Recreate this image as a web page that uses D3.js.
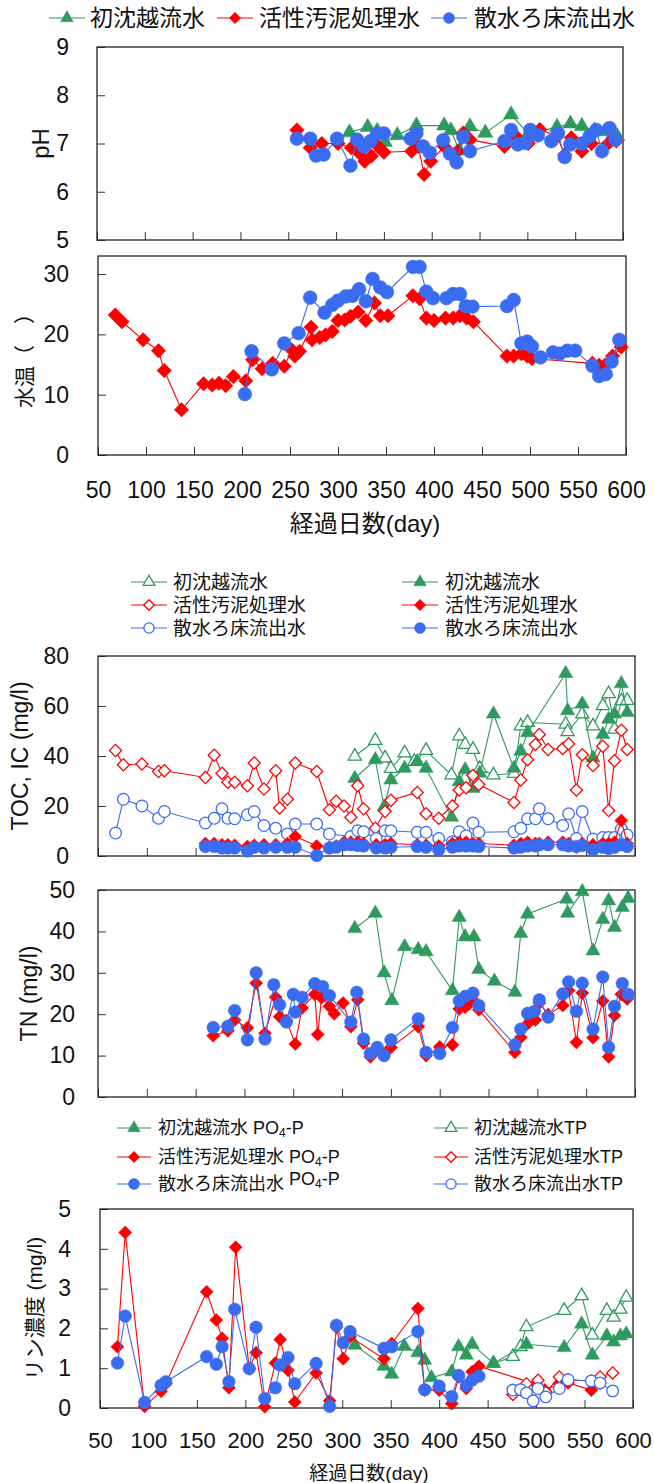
<!DOCTYPE html>
<html>
<head>
<meta charset="utf-8">
<script src="https://cdn.jsdelivr.net/npm/d3@7"></script>
<style>
  body { margin: 0; background: #fff; }
  text { font-family: "Liberation Sans", "Noto Sans CJK JP", sans-serif; fill: #111; }
</style>
</head>
<body>
<svg id="chart" width="654" height="1483"></svg>
<script>
// series names
var names = ["初沈越流水", "活性汚泥処理水", "散水ろ床流出水"];
var dayTicks = [50, 100, 150, 200, 250, 300, 350, 400, 450, 500, 550, 600];

// pH
var phTicks = [5, 6, 7, 8, 9];
var phGreenDays = [314, 333, 343, 351, 364, 384, 413, 420, 429, 440, 456, 483, 501, 531, 545, 557, 570, 581, 594];
var phGreen = [7.23, 7.34, 7.26, 7.03, 7.17, 7.37, 7.37, 7.27, 6.85, 7.35, 7.22, 7.6, 7.2, 7.34, 7.41, 7.36, 7.27, 7.25, 7.15];
var phRedDays = [259, 273, 285, 302, 316, 324, 330, 337, 344, 350, 379, 386, 392, 399, 413, 427, 433, 440, 476, 488, 501, 513, 531, 539, 546, 557, 567, 585, 593];
var phRed = [7.28, 6.91, 7.0, 7.0, 6.91, 6.81, 6.63, 6.74, 6.94, 6.82, 6.84, 6.94, 6.36, 6.63, 6.94, 6.84, 7.22, 7.08, 6.94, 7.15, 7.0, 7.29, 7.15, 6.77, 7.12, 6.84, 7.0, 7.01, 7.05];
var phBlueDays = [259, 273, 279, 287, 301, 315, 322, 329, 336, 343, 350, 378, 384, 391, 398, 412, 419, 426, 433, 440, 476, 483, 490, 498, 503, 511, 525, 532, 539, 545, 557, 565, 572, 578, 586, 592];
var phBlue = [7.1, 7.1, 6.75, 6.77, 7.1, 6.54, 7.08, 6.94, 7.05, 7.21, 7.21, 7.1, 7.21, 6.94, 6.81, 7.07, 6.79, 6.61, 7.14, 6.84, 7.05, 7.28, 6.98, 7.01, 7.28, 7.17, 7.05, 7.21, 6.72, 6.98, 7.0, 7.15, 7.28, 6.84, 7.32, 7.08];

// water temperature
var tempTicks = [0, 10, 20, 30];
var tempRedDays = [68, 75, 97, 113, 119, 137, 160, 169, 176, 183, 191, 204, 211, 221, 232, 244, 252, 255, 260, 272, 273, 281, 287, 294, 300, 307, 313, 321, 329, 338, 344, 352, 378, 385, 392, 400, 412, 420, 427, 434, 441, 476, 483, 491, 497, 502, 565, 572, 578, 586, 595];
var tempRed = [23.2, 22.1, 19.1, 17.3, 14.0, 7.5, 11.8, 11.6, 11.9, 11.5, 13.0, 12.3, 15.8, 14.3, 15.2, 14.7, 17.4, 16.4, 17.2, 21.2, 19.1, 19.5, 19.9, 20.5, 22.3, 22.4, 23.0, 23.7, 22.3, 25.2, 23.1, 23.1, 26.4, 25.9, 22.7, 22.3, 22.7, 22.7, 23.1, 22.7, 22.1, 16.4, 16.4, 16.8, 16.4, 16.0, 15.2, 14.9, 14.9, 16.4, 17.9];
var tempBlueDays = [203, 210, 231, 244, 259, 271, 286, 294, 300, 308, 315, 322, 329, 336, 344, 351, 378, 385, 392, 399, 413, 420, 427, 433, 440, 476, 483, 491, 497, 502, 511, 524, 531, 539, 547, 565, 572, 579, 585, 593];
var tempBlue = [10.1, 17.2, 14.2, 18.5, 20.2, 26.1, 23.6, 24.9, 25.6, 26.3, 26.4, 27.5, 25.5, 29.2, 27.8, 27.0, 31.2, 31.2, 27.1, 26.0, 26.0, 26.7, 26.7, 24.7, 24.6, 24.7, 25.7, 18.5, 18.8, 18.0, 16.2, 17.0, 16.8, 17.3, 17.3, 14.8, 13.1, 13.4, 15.5, 19.1];

// TOC (open) and IC (filled)
var tocTicks = [0, 20, 40, 60, 80];
var tocGreenDays = [313, 334, 344, 350, 364, 374, 386, 412, 420, 426, 434, 441, 455, 476, 483, 490, 529, 531, 546, 557, 567, 573, 579, 586, 592];
var tocGreen = [39.9, 46.2, 39.2, 35.0, 41.2, 37.8, 42.2, 32.4, 48.0, 44.6, 42.6, 35.0, 32.4, 33.0, 52.0, 53.4, 52.7, 49.7, 56.8, 52.0, 60.1, 64.9, 50.7, 62.0, 62.2];
var tocRedDays = [68, 76, 95, 112, 118, 160, 169, 177, 183, 190, 203, 210, 220, 232, 236, 244, 252, 274, 287, 294, 302, 309, 316, 322, 334, 344, 350, 377, 386, 399, 413, 420, 427, 434, 440, 476, 483, 490, 498, 502, 511, 526, 532, 540, 546, 557, 567, 573, 579, 586, 592];
var tocRed = [42.2, 36.5, 36.8, 33.8, 34.1, 31.4, 40.3, 33.1, 29.5, 29.5, 28.1, 37.2, 26.8, 34.1, 19.2, 22.7, 37.2, 33.8, 18.5, 21.9, 20.0, 15.5, 28.1, 18.9, 11.1, 17.8, 22.3, 25.4, 16.9, 15.1, 20.0, 26.4, 27.3, 32.2, 28.6, 21.4, 30.4, 38.5, 44.6, 48.6, 42.6, 43.0, 44.9, 26.4, 40.5, 36.2, 43.9, 18.2, 38.1, 50.3, 42.6];
var tocBlueDays = [68, 76, 95, 112, 118, 160, 169, 177, 183, 190, 203, 210, 220, 232, 244, 252, 274, 287, 309, 316, 322, 335, 344, 350, 377, 386, 399, 413, 420, 427, 434, 440, 476, 483, 490, 498, 502, 511, 526, 532, 540, 546, 557, 567, 573, 579, 586, 592];
var tocBlue = [9.2, 22.7, 20.0, 15.1, 17.8, 13.2, 15.1, 18.9, 15.1, 14.9, 16.5, 17.8, 12.2, 11.1, 8.8, 12.8, 12.8, 8.8, 7.8, 10.1, 9.7, 7.0, 10.1, 10.1, 9.5, 9.5, 7.0, 5.7, 9.7, 8.1, 13.2, 9.5, 9.7, 11.1, 14.9, 14.9, 18.9, 14.9, 12.2, 16.9, 7.0, 17.8, 6.8, 7.4, 7.4, 7.4, 10.8, 8.4];
var icGreenDays = [313, 334, 343, 350, 364, 377, 386, 412, 420, 426, 434, 441, 455, 476, 483, 490, 529, 531, 546, 557, 567, 573, 579, 586, 592];
var icGreen = [31, 38.5, 19.6, 30.4, 35.1, 37.8, 35.1, 15.5, 29.7, 34.5, 27, 33.1, 56.8, 35.1, 41.9, 49.3, 73, 58.1, 60.8, 39.2, 48.6, 54.7, 56.8, 68.9, 57.4];
var icDays = [160, 169, 177, 183, 190, 203, 210, 220, 232, 244, 252, 274, 287, 294, 302, 309, 316, 322, 335, 344, 350, 377, 386, 399, 413, 420, 427, 434, 440, 476, 483, 490, 498, 502, 511, 526, 532, 540, 546, 557, 567, 573, 579, 586, 592];
var icRed = [5, 5, 4.5, 4.5, 4.3, 3.8, 4.3, 4.5, 4.5, 5, 7.8, 4, 3.5, 4, 5.5, 5.5, 5.5, 5, 4.5, 4.5, 5, 4.5, 4.3, 4, 5, 5.5, 5.5, 5, 5, 4.3, 5, 5.5, 5, 5, 5.5, 5.5, 5, 3.5, 5, 4.5, 5, 5, 5.5, 14.2, 5];
var icBlue = [3.8, 3.8, 3.2, 3.2, 3.2, 2, 3.5, 3.2, 3.5, 3.5, 3.5, 0.2, 3.2, 3.5, 4.5, 4.5, 4.2, 4, 3.2, 3.2, 3.5, 3.8, 3.5, 2.5, 3.5, 4, 4, 4, 3.8, 3.2, 3.5, 4, 4, 4.5, 4.5, 4.5, 4, 3.8, 4.2, 2.5, 3.5, 3, 3.5, 4.5, 3.8];

// TN
var tnTicks = [0, 10, 20, 30, 40, 50];
var tnGreenDays = [313, 334, 343, 351, 364, 378, 386, 413, 420, 426, 435, 440, 456, 477, 483, 490, 530, 531, 546, 557, 567, 573, 579, 587, 593];
var tnGreen = [40.7, 44.4, 30.0, 23.3, 36.3, 35.6, 35.1, 25.7, 43.4, 38.7, 38.7, 30.8, 28.0, 25.3, 39.5, 44.2, 47.8, 44.4, 49.6, 35.3, 42.9, 47.4, 41.0, 45.8, 48.0];
var tnRedDays = [168, 183, 190, 203, 212, 221, 232, 236, 243, 252, 259, 272, 275, 279, 287, 292, 301, 309, 316, 322, 329, 335, 343, 350, 378, 386, 400, 413, 420, 426, 430, 435, 440, 477, 483, 490, 498, 502, 511, 526, 532, 540, 546, 557, 567, 573, 579, 586, 592];
var tnRed = [14.8, 16, 18.6, 16.7, 27.5, 15.4, 24.1, 19.4, 18.5, 12.8, 21.5, 24.8, 15.1, 24, 21.9, 20.1, 22.7, 17, 23.5, 13, 9.7, 11.3, 10.4, 12, 17, 10, 12.1, 12.6, 21.3, 21.7, 22.5, 23.2, 21.1, 10.8, 14.4, 17.7, 18.6, 22.7, 19.9, 22.1, 25.7, 13.2, 25.1, 14.3, 23.2, 9.7, 19.7, 24.8, 23.7];
var tnBlueDays = [168, 183, 190, 203, 212, 221, 230, 236, 243, 250, 252, 259, 272, 280, 287, 309, 315, 322, 329, 336, 343, 350, 378, 386, 400, 413, 420, 426, 434, 440, 477, 483, 490, 497, 502, 511, 526, 532, 540, 546, 557, 567, 573, 579, 587, 593];
var tnBlue = [16.8, 17.1, 20.9, 13.8, 30, 14, 27.1, 22.3, 18.1, 24.8, 20.5, 24.1, 27.4, 26.7, 24.5, 18.1, 25.3, 14, 10.5, 12, 10, 13.8, 18.9, 10.8, 10.5, 16.8, 23.2, 24.3, 25.1, 22.1, 12.6, 16.4, 20.2, 20.7, 23.5, 19.3, 24.9, 27.8, 20.7, 27.5, 16.4, 29, 12, 21.9, 27.4, 24.8];

// phosphorus: PO4-P (filled) and TP (open)
var pTicks = [0, 1, 2, 3, 4, 5];
var po4GreenDays = [313, 343, 351, 364, 378, 385, 392, 413, 420, 428, 434, 456, 490, 529, 547, 558, 573, 580, 587, 593];
var po4Green = [1.58, 1.05, 0.85, 1.55, 1.39, 1.2, 0.76, 0.91, 1.54, 1.33, 1.6, 1.12, 1.6, 1.52, 2.11, 1.33, 1.81, 1.66, 1.81, 1.86];
var po4RedDays = [68, 76, 96, 113, 118, 160, 170, 176, 183, 190, 204, 211, 220, 231, 236, 244, 251, 273, 287, 294, 301, 308, 343, 351, 378, 385, 400, 413, 420, 428, 434, 441, 500, 509, 524, 533, 557, 566];
var po4Red = [1.54, 4.41, 0.04, 0.42, 0.61, 2.92, 2.21, 1.75, 0.51, 4.04, 0.99, 1.39, 0.03, 1.13, 1.72, 0.95, 0.15, 0.88, 0.18, 2.03, 1.24, 1.79, 1.24, 1.62, 2.5, 0.45, 0.45, 0.11, 0.78, 0.49, 0.91, 1.05, 0.6, 0.45, 0.61, 0.63, 0.45, 0.63];
var po4BlueDays = [68, 76, 96, 113, 118, 160, 170, 176, 183, 189, 204, 211, 220, 231, 236, 244, 251, 273, 287, 294, 301, 308, 343, 351, 378, 385, 400, 413, 420, 428, 434, 441];
var po4Blue = [1.13, 2.31, 0.14, 0.57, 0.66, 1.29, 1.1, 1.54, 0.66, 2.48, 0.99, 2.03, 0.24, 0.51, 1.08, 1.27, 0.61, 1.12, 0.04, 2.08, 1.64, 1.92, 1.5, 1.54, 1.92, 0.46, 0.55, 0.29, 0.82, 0.57, 0.7, 0.8];
var tpGreenDays = [456, 476, 484, 490, 529, 547, 558, 573, 580, 587, 593];
var tpGreen = [1.12, 1.29, 1.54, 2.04, 2.45, 2.82, 1.83, 2.45, 2.28, 2.48, 2.78];
var tpRedDays = [476, 484, 490, 502, 510, 524, 533, 557, 566, 579];
var tpRed = [0.34, 0.46, 0.61, 0.7, 0.4, 0.78, 0.71, 0.68, 0.78, 0.88];
var tpBlueDays = [476, 484, 490, 497, 502, 510, 524, 533, 557, 566, 579];
var tpBlue = [0.45, 0.46, 0.38, 0.18, 0.49, 0.28, 0.49, 0.71, 0.68, 0.63, 0.43];

var green = "#2f9a5e", red = "#ff0000", blue = "#3a6cf2";
var svg = d3.select("#chart");
svg.append("rect").attr("width", 654).attr("height", 1483).attr("fill", "#fff");

var shapes = {tri: d3.symbolTriangle, dia: d3.symbolSquare, cir: d3.symbolCircle};
// marker areas, big (upper two panels) and normal
var sizeBig = {tri: 100, dia: 105, cir: 150};
var sizeMid = {tri: 88, dia: 86, cir: 125};
var sizeLeg = {tri: 70, dia: 64, cir: 95};

function marker(g, cx, cy, shape, color, open, sizes) {
  g.append("path")
    .attr("transform", "translate(" + cx + "," + cy + ")" + (shape === "dia" ? " rotate(45)" : ""))
    .attr("d", d3.symbol().type(shapes[shape]).size(sizes[shape] * (open ? 0.85 : 1)))
    .attr("fill", open ? "#fff" : color)
    .attr("stroke", color)
    .attr("stroke-width", open ? 1.3 : 0.5);
}

// one panel: box, inward ticks, labels
function panel(o) {
  var x = d3.scaleLinear().domain([50, 600]).range([o.left, o.right]);
  var y = d3.scaleLinear().domain(o.yDomain).range([o.bottom, o.top]);
  var g = svg.append("g");

  var ya = g.append("g")
      .attr("transform", "translate(" + o.left + ",0)")
      .call(d3.axisLeft(y).tickValues(o.yTicks).tickFormat(d3.format("d"))
        .tickSize(-8).tickPadding(o.labelGap));
  var xa = g.append("g")
      .attr("transform", "translate(0," + o.bottom + ")")
      .call(d3.axisBottom(x).tickValues(dayTicks).tickSize(-8).tickPadding(o.xPad || 0)
        .tickFormat(o.xLabels ? d3.format("d") : ""));
  [ya, xa].forEach(function(a) {
    a.select(".domain").remove();
    a.attr("font-family", null).attr("font-size", 23);
    a.selectAll("line").attr("stroke", "#333");
    a.selectAll("text").attr("fill", "#111");
  });
  if (o.xFont) xa.attr("font-size", o.xFont);

  g.append("rect")
    .attr("x", o.left).attr("y", o.top)
    .attr("width", o.right - o.left).attr("height", o.bottom - o.top)
    .attr("fill", "none").attr("stroke", "#222").attr("stroke-width", 1.3);

  g.append("text")
    .attr("transform", "translate(" + o.titleX + "," + ((o.top + o.bottom) / 2) + ") rotate(-90)")
    .attr("text-anchor", "middle").attr("dominant-baseline", "central")
    .attr("font-size", o.titleSize)
    .text(o.title);

  o.series.forEach(function(s) {
    var pts = s.days.map(function(d, i) { return [d, s.vals[i]]; });
    g.append("path").datum(pts)
      .attr("fill", "none").attr("stroke", s.color).attr("stroke-width", 1.1)
      .attr("d", d3.line().x(function(d) { return x(d[0]); }).y(function(d) { return y(d[1]); }));
    var mg = g.append("g");
    pts.forEach(function(d) { marker(mg, x(d[0]), y(d[1]), s.shape, s.color, s.open, o.sizes); });
  });
  return g;
}

// legend entry: line + marker + label
function legendItem(cx, cy, half, shape, color, open, sizes) {
  svg.append("line").attr("x1", cx - half).attr("x2", cx + half).attr("y1", cy).attr("y2", cy)
    .attr("stroke", color).attr("stroke-width", 1.2);
  marker(svg, cx, cy, shape, color, open, sizes);
}

// ---- top legend
var topMarks = [67, 235, 449], topText = [90, 259, 474];
var colors = [green, red, blue], shapeKeys = ["tri", "dia", "cir"];
names.forEach(function(n, i) {
  legendItem(topMarks[i], 18, 18, shapeKeys[i], colors[i], false, sizeLeg);
  svg.append("text").attr("x", topText[i]).attr("y", 18).attr("dominant-baseline", "central")
    .attr("font-size", 23).text(n);
});

panel({
  left: 97, right: 623, top: 47, bottom: 240, yDomain: [5, 9], yTicks: phTicks, labelGap: 28,
  title: "pH", titleX: 40, titleSize: 24, sizes: sizeBig,
  series: [
    {days: phGreenDays, vals: phGreen, color: green, shape: "tri"},
    {days: phRedDays, vals: phRed, color: red, shape: "dia"},
    {days: phBlueDays, vals: phBlue, color: blue, shape: "cir"}
  ]
});

panel({
  left: 98, right: 626, top: 256, bottom: 455, yDomain: [0, 33], yTicks: tempTicks, labelGap: 29,
  xLabels: true, xPad: 27,
  title: "水温（　）", titleX: 24, titleSize: 21, sizes: sizeBig,
  series: [
    {days: tempRedDays, vals: tempRed, color: red, shape: "dia"},
    {days: tempBlueDays, vals: tempBlue, color: blue, shape: "cir"}
  ]
});
svg.append("text").attr("x", 365).attr("y", 523).attr("text-anchor", "middle")
  .attr("dominant-baseline", "central").attr("font-size", 24).text("経過日数(day)");

// ---- TOC / IC legend
var tocRows = [582, 605, 628];
names.forEach(function(n, i) {
  legendItem(149, tocRows[i], 18, shapeKeys[i], colors[i], true, sizeLeg);
  svg.append("text").attr("x", 173).attr("y", tocRows[i]).attr("dominant-baseline", "central")
    .attr("font-size", 19).text(n);
  legendItem(420, tocRows[i], 18, shapeKeys[i], colors[i], false, sizeLeg);
  svg.append("text").attr("x", 445).attr("y", tocRows[i]).attr("dominant-baseline", "central")
    .attr("font-size", 19).text(n);
});

panel({
  left: 98, right: 635, top: 656, bottom: 856, yDomain: [0, 80], yTicks: tocTicks, labelGap: 29,
  title: "TOC, IC (mg/l)", titleX: 20, titleSize: 23, sizes: sizeMid,
  series: [
    {days: tocGreenDays, vals: tocGreen, color: green, shape: "tri", open: true},
    {days: icGreenDays, vals: icGreen, color: green, shape: "tri"},
    {days: tocRedDays, vals: tocRed, color: red, shape: "dia", open: true},
    {days: tocBlueDays, vals: tocBlue, color: blue, shape: "cir", open: true},
    {days: icDays, vals: icRed, color: red, shape: "dia"},
    {days: icDays, vals: icBlue, color: blue, shape: "cir"}
  ]
});

panel({
  left: 98, right: 635, top: 890, bottom: 1097, yDomain: [0, 50], yTicks: tnTicks, labelGap: 23,
  title: "TN (mg/l)", titleX: 29, titleSize: 23, sizes: sizeMid,
  series: [
    {days: tnGreenDays, vals: tnGreen, color: green, shape: "tri"},
    {days: tnRedDays, vals: tnRed, color: red, shape: "dia"},
    {days: tnBlueDays, vals: tnBlue, color: blue, shape: "cir"}
  ]
});

// ---- phosphorus legend
var pRows = [1128, 1157, 1184];
names.forEach(function(n, i) {
  legendItem(134, pRows[i], 17, shapeKeys[i], colors[i], false, sizeLeg);
  var t = svg.append("text").attr("x", 158).attr("y", pRows[i]).attr("dominant-baseline", "central")
    .attr("font-size", 18);
  t.append("tspan").text(n + " ");
  var lift = i === 2 ? -5 : 0;
  t.append("tspan").attr("dy", lift).text("PO");
  t.append("tspan").attr("dy", 5).attr("font-size", 12).text("4");
  t.append("tspan").attr("dy", -5).text("-P");
  legendItem(451, pRows[i], 17, shapeKeys[i], colors[i], true, sizeLeg);
  svg.append("text").attr("x", 474).attr("y", pRows[i]).attr("dominant-baseline", "central")
    .attr("font-size", 18).text(n + "TP");
});

panel({
  left: 100, right: 633, top: 1209, bottom: 1408, yDomain: [0, 5], yTicks: pTicks, labelGap: 29,
  xLabels: true, xPad: 24, xFont: 22,
  title: "リン濃度 (mg/l)", titleX: 34, titleSize: 21, sizes: sizeMid,
  series: [
    {days: tpGreenDays, vals: tpGreen, color: green, shape: "tri", open: true},
    {days: po4GreenDays, vals: po4Green, color: green, shape: "tri"},
    {days: po4RedDays, vals: po4Red, color: red, shape: "dia"},
    {days: po4BlueDays, vals: po4Blue, color: blue, shape: "cir"},
    {days: tpRedDays, vals: tpRed, color: red, shape: "dia", open: true},
    {days: tpBlueDays, vals: tpBlue, color: blue, shape: "cir", open: true}
  ]
});
svg.append("text").attr("x", 369).attr("y", 1473).attr("text-anchor", "middle")
  .attr("dominant-baseline", "central").attr("font-size", 19).text("経過日数(day)");
</script>
</body>
</html>
